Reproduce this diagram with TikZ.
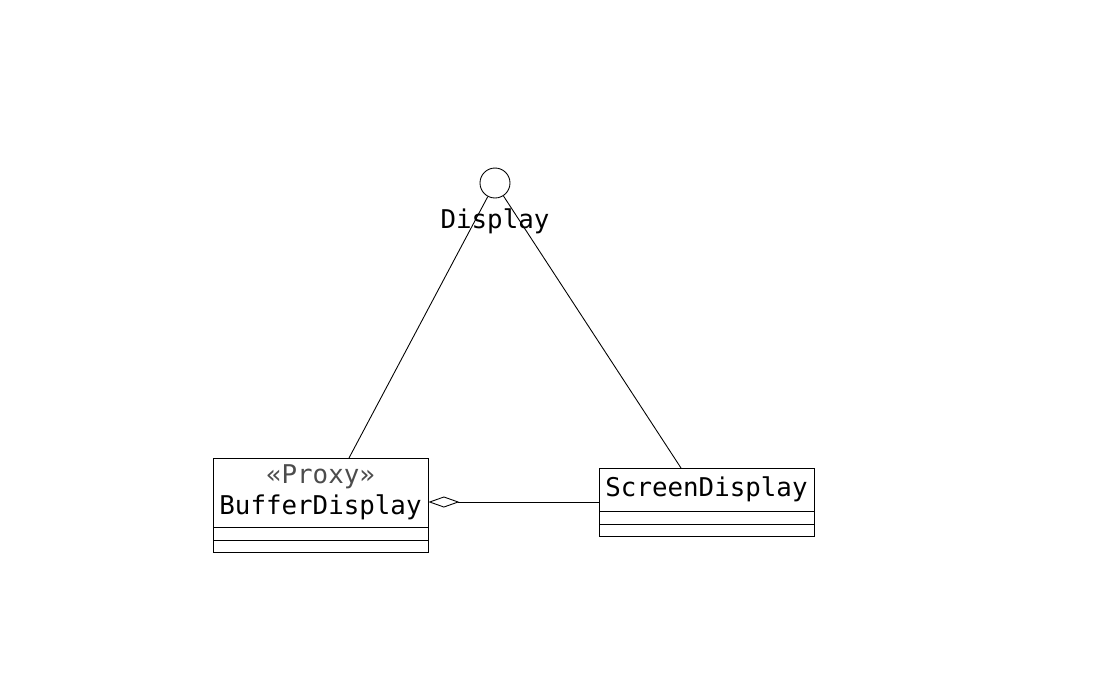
\documentclass[tikz,border=0pt]{standalone}
\usepackage{fontspec}
\newfontfamily\umlfont{DejaVu Sans Mono}
\usetikzlibrary{arrows.meta, positioning, fit}

\begin{document}
\begin{tikzpicture}[x=0.02cm, y=-0.02cm, line width=0.5pt,
      umltext/.style={font=\umlfont\fontsize{14.7}{17.6}\selectfont},
      cls/.style={draw, umltext, minimum width=4.3cm, inner sep=0pt,
                  outer sep=0pt, align=center},
      part/.style={draw, minimum width=4.3cm, inner sep=0pt, outer sep=0pt},
      iface/.style={draw, circle, minimum size=0.6cm, inner sep=0pt},
      aggr/.style={{Diamond[open, length=0.62cm, width=0.22cm]}-}]

    \useasboundingbox (0,0) rectangle (1100,698);

    % interface lollipop
    \node[iface, label={[umltext, label distance=0.08cm]below:Display}] (display) at (495,183) {};

    % proxy class
    \node[cls, minimum height=1.38cm] (bufname) at (320.5,492.5)
      {{\color{black!70}«Proxy»}\\BufferDisplay};
    \node[part, minimum height=0.26cm, below=0pt of bufname] (bufattr) {};
    \node[part, minimum height=0.24cm, below=0pt of bufattr] (bufops) {};
    \node[fit=(bufname)(bufops), inner sep=0pt] (buf) {};

    % real subject
    \node[cls, minimum height=0.86cm] (scrname) at (706.5,489.5) {ScreenDisplay};
    \node[part, minimum height=0.26cm, below=0pt of scrname] (scrattr) {};
    \node[part, minimum height=0.24cm, below=0pt of scrattr] (scrops) {};
    \node[fit=(scrname)(scrops), inner sep=0pt] (scr) {};

    % realizations
    \draw (display) -- ([xshift=0.57cm]bufname.north);
    \draw (display) -- ([xshift=-0.51cm]scrname.north);

    % proxy holds the screen display
    \draw[aggr] (buf.east |- scr.west) -- (scr.west);

\end{tikzpicture}
\end{document}
